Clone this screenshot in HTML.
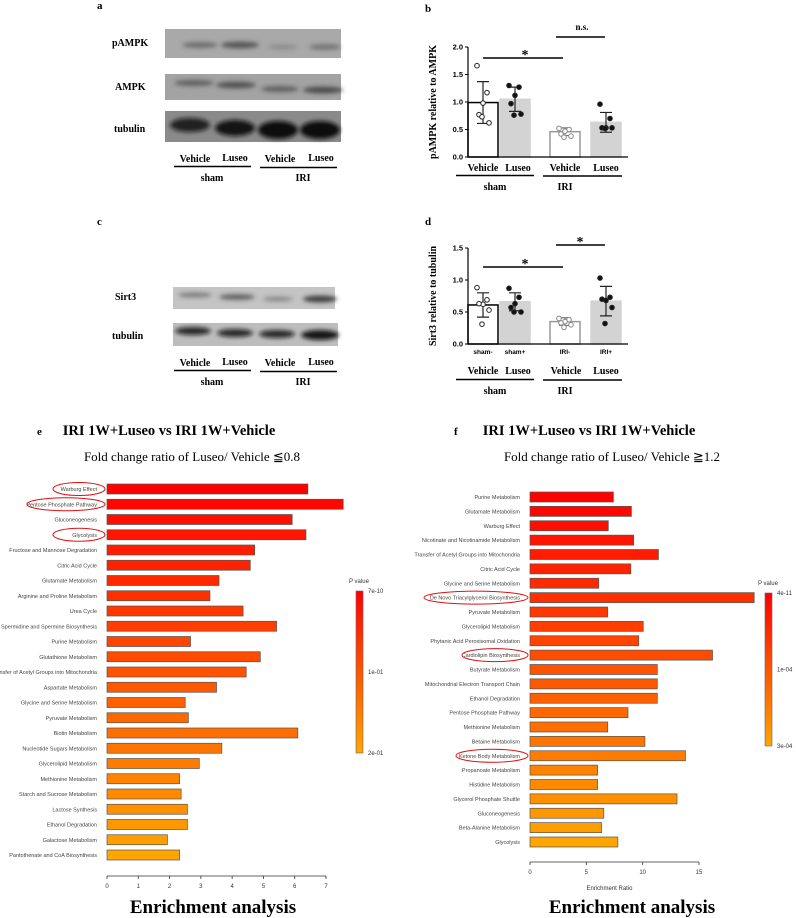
<!DOCTYPE html>
<html><head><meta charset="utf-8">
<style>
html,body{margin:0;padding:0;background:#fff;}
svg{display:block;font-family:"Liberation Serif",serif;}
.lbl{font-family:"Liberation Sans",sans-serif;font-size:5.5px;fill:#444;}
.tk{font-family:"Liberation Sans",sans-serif;font-size:6px;fill:#333;}
.b{font-weight:bold;}
</style></head>
<body>
<svg id="fig" width="796" height="918" viewBox="0 0 796 918" xmlns="http://www.w3.org/2000/svg">
<defs>
<filter id="blur" x="-20%" y="-50%" width="140%" height="200%"><feGaussianBlur stdDeviation="2.2"/></filter>
<linearGradient id="cb" x1="0" y1="0" x2="0" y2="1"><stop offset="0" stop-color="#ff0000"/><stop offset="0.5" stop-color="#ff5500"/><stop offset="1" stop-color="#ffa500"/></linearGradient>
</defs>

<!-- Panel a -->
<g>
<text x="97" y="9" font-size="11" class="b">a</text>
<text x="112" y="46" font-size="10" class="b">pAMPK</text>
<text x="115" y="90" font-size="10" class="b">AMPK</text>
<text x="114" y="132" font-size="10" class="b">tubulin</text>
<rect x="165" y="29" width="176" height="29" fill="#a9a9a9"/>
<g filter="url(#blur)" fill="#444">
<ellipse cx="200" cy="45" rx="18" ry="3" opacity="0.6"/><ellipse cx="240" cy="45" rx="19" ry="3.5" opacity="0.8"/>
<ellipse cx="283" cy="47" rx="15" ry="2.5" opacity="0.3"/><ellipse cx="325" cy="47" rx="16" ry="3" opacity="0.5"/></g>
<rect x="165" y="74" width="176" height="26" fill="#a3a3a3"/>
<g filter="url(#blur)" fill="#333">
<ellipse cx="194" cy="83" rx="20" ry="3" opacity="0.6"/><ellipse cx="236" cy="85" rx="20" ry="3.5" opacity="0.7"/>
<ellipse cx="280" cy="89" rx="19" ry="3" opacity="0.6"/><ellipse cx="323" cy="90" rx="20" ry="3.5" opacity="0.75"/></g>
<rect x="165" y="111" width="176" height="31" fill="#8a8a8a"/>
<g filter="url(#blur)" fill="#111">
<ellipse cx="190" cy="125" rx="20" ry="7" opacity="0.85"/><ellipse cx="235" cy="128" rx="20" ry="8" opacity="0.95"/>
<ellipse cx="278" cy="130" rx="20" ry="9"/><ellipse cx="320" cy="130" rx="20" ry="9"/></g>
<g font-size="10" class="b">
<text x="195" y="162" text-anchor="middle">Vehicle</text><text x="235" y="161" text-anchor="middle">Luseo</text>
<text x="280" y="162" text-anchor="middle">Vehicle</text><text x="321" y="161" text-anchor="middle">Luseo</text>
<text x="212" y="181" text-anchor="middle">sham</text><text x="303" y="181" text-anchor="middle">IRI</text></g>
<line x1="174" y1="166.5" x2="251" y2="166.5" stroke="#000" stroke-width="1.5"/>
<line x1="260" y1="167.5" x2="337" y2="167.5" stroke="#000" stroke-width="1.5"/>
</g>

<!-- Panel c -->
<g>
<text x="97" y="225" font-size="11" class="b">c</text>
<text x="115" y="300" font-size="10" class="b">Sirt3</text>
<text x="112" y="339" font-size="10" class="b">tubulin</text>
<rect x="173" y="287" width="162" height="22" fill="#c4c4c4"/>
<g filter="url(#blur)" fill="#333">
<ellipse cx="195" cy="295" rx="17" ry="2.5" opacity="0.5"/><ellipse cx="237" cy="297" rx="18" ry="3" opacity="0.65"/>
<ellipse cx="278" cy="299" rx="15" ry="2.5" opacity="0.4"/><ellipse cx="320" cy="299" rx="17" ry="3.5" opacity="0.9"/></g>
<rect x="173" y="323" width="165" height="23" fill="#bdbdbd"/>
<g filter="url(#blur)" fill="#111">
<ellipse cx="193" cy="331" rx="18" ry="4" opacity="0.85"/><ellipse cx="235" cy="333" rx="18" ry="4" opacity="0.85"/>
<ellipse cx="277" cy="334" rx="18" ry="4" opacity="0.85"/><ellipse cx="320" cy="335" rx="19" ry="5" opacity="0.95"/></g>
<g font-size="10" class="b">
<text x="195" y="366" text-anchor="middle">Vehicle</text><text x="235" y="365" text-anchor="middle">Luseo</text>
<text x="280" y="366" text-anchor="middle">Vehicle</text><text x="321" y="365" text-anchor="middle">Luseo</text>
<text x="212" y="385" text-anchor="middle">sham</text><text x="303" y="385" text-anchor="middle">IRI</text></g>
<line x1="174" y1="370.5" x2="251" y2="370.5" stroke="#000" stroke-width="1.5"/>
<line x1="260" y1="371.5" x2="337" y2="371.5" stroke="#000" stroke-width="1.5"/>
</g>

<g id="pb"></g>
<g id="pd"></g>
<g id="pe"></g>
<g id="pf"></g>
</svg>

<script>
// ---- Data: panel b ----
const bCategories = ["Vehicle","Luseo","Vehicle","Luseo"];
const bMeans = [0.99, 1.05, 0.46, 0.63];
const bSD = [0.38, 0.22, 0.07, 0.18];
const bPoints = [[1.66,1.17,0.98,0.77,0.62,0.73],[1.30,1.27,1.12,0.97,0.78,0.76],[0.52,0.50,0.47,0.42,0.38,0.36],[0.96,0.70,0.53,0.53,0.53,0.52]];
const bTicks = [0.0,0.5,1.0,1.5,2.0];
// ---- Data: panel d ----
const dCategories = ["sham-","sham+","IRI-","IRI+"];
const dMeans = [0.61, 0.66, 0.35, 0.67];
const dSD = [0.19, 0.14, 0.06, 0.23];
const dPoints = [[0.88,0.69,0.62,0.63,0.53,0.31],[0.87,0.73,0.63,0.57,0.50,0.50],[0.40,0.38,0.35,0.33,0.30,0.26],[1.03,0.73,0.68,0.70,0.57,0.32]];
const dTicks = [0.0,0.5,1.0,1.5];
// ---- Data: panel e ----
const eCategories = ["Warburg Effect","Pentose Phosphate Pathway","Gluconeogenesis","Glycolysis","Fructose and Mannose Degradation","Citric Acid Cycle","Glutamate Metabolism","Arginine and Proline Metabolism","Urea Cycle","Spermidine and Spermine Biosynthesis","Purine Metabolism","Glutathione Metabolism","Transfer of Acetyl Groups into Mitochondria","Aspartate Metabolism","Glycine and Serine Metabolism","Pyruvate Metabolism","Biotin Metabolism","Nucleotide Sugars Metabolism","Glycerolipid Metabolism","Methionine Metabolism","Starch and Sucrose Metabolism","Lactose Synthesis","Ethanol Degradation","Galactose Metabolism","Pantothenate and CoA Biosynthesis"];
const eValues = [6.42,7.55,5.92,6.36,4.72,4.58,3.58,3.29,4.35,5.42,2.67,4.9,4.45,3.5,2.5,2.6,6.1,3.67,2.95,2.32,2.37,2.57,2.57,1.93,2.32];
const eTicks = [0,1,2,3,4,5,6,7];
const eHighlight = [0,1,3];
const eColorLabels = ["7e-10","1e-01","2e-01"];
// ---- Data: panel f ----
const fCategories = ["Purine Metabolism","Glutamate Metabolism","Warburg Effect","Nicotinate and Nicotinamide Metabolism","Transfer of Acetyl Groups into Mitochondria","Citric Acid Cycle","Glycine and Serine Metabolism","De Novo Triacylglycerol Biosynthesis","Pyruvate Metabolism","Glycerolipid Metabolism","Phytanic Acid Peroxisomal Oxidation","Cardiolipin Biosynthesis","Butyrate Metabolism","Mitochondrial Electron Transport Chain","Ethanol Degradation","Pentose Phosphate Pathway","Methionine Metabolism","Betaine Metabolism","Ketone Body Metabolism","Propanoate Metabolism","Histidine Metabolism","Glycerol Phosphate Shuttle","Gluconeogenesis","Beta-Alanine Metabolism","Glycolysis"];
const fValues = [7.4,9.0,6.95,9.2,11.4,8.95,6.1,19.9,6.9,10.05,9.65,16.2,11.3,11.3,11.3,8.7,6.9,10.2,13.8,6.0,6.0,13.05,6.55,6.35,7.8];
const fTicks = [0,5,10,15];
const fHighlight = [7,11,18];
const fColorLabels = ["4e-11","1e-04","3e-04"];

const NS="http://www.w3.org/2000/svg";
function mk(parent, tag, attrs, text){
  const e=document.createElementNS(NS,tag);
  for(const k in attrs) e.setAttribute(k, attrs[k]);
  if(text!==undefined) e.textContent=text;
  parent.appendChild(e); return e;
}

function dotPlot(gid, cats, means, sd, pts, ticks, ymax, y0, y1, label, letter, letterY){
  const g=document.getElementById(gid);
  const x0=468;
  const ys=v=>y0-(v/ymax)*(y0-y1);
  const centers=[483,515,565,606];
  const hw=15;
  const fills=["#fff","#d3d3d3","#fff","#d3d3d3"];
  const strokes=["#000","#d3d3d3","#999","#d3d3d3"];
  mk(g,"text",{x:425,y:letterY,"font-size":11,"font-weight":"bold"},letter);
  for(let i=0;i<cats.length;i++){
    const bar=mk(g,"rect",{x:centers[i]-hw,y:ys(means[i]),width:hw*2,height:y0-ys(means[i]),fill:fills[i],stroke:strokes[i],"stroke-width":1.5});
    
    
    const eb=mk(g,"path",{d:`M${centers[i]} ${ys(means[i]+sd[i])}V${ys(means[i]-sd[i])}M${centers[i]-6} ${ys(means[i]+sd[i])}h12M${centers[i]-6} ${ys(means[i]-sd[i])}h12`,stroke:i==2?"#777":"#222","stroke-width":1.2,fill:"none"});
    
    
    pts[i].forEach((v,j)=>{
      const dx=[-6,4,0,-4,6,-1][j];
      const p=mk(g,"circle",{cx:centers[i]+dx,cy:ys(v),r:2.3,fill:(i%2==1)?"#111":"#fff",stroke:i==2?"#888":"#222","stroke-width":1});
      
      
    });
  }
  mk(g,"line",{x1:x0,y1:y0,x2:x0,y2:y1,stroke:"#000","stroke-width":1.2});
  mk(g,"line",{x1:x0,y1:y0,x2:628,y2:y0,stroke:"#000","stroke-width":1.2});
  ticks.forEach(t=>{
    mk(g,"line",{x1:x0-3,y1:ys(t),x2:x0,y2:ys(t),stroke:"#000"});
    const tl=mk(g,"text",{x:x0-5,y:ys(t)+2.5,"font-size":7.5,"font-weight":"bold","text-anchor":"end","font-family":"Liberation Sans,sans-serif"},t.toFixed(1));
    
    
  });
  const yl=mk(g,"text",{x:0,y:0,"font-size":10,"font-weight":"bold","text-anchor":"middle",transform:`translate(436 ${(y0+y1)/2}) rotate(-90)`},label);
  
  
  return {g,ys,centers};
}

// Panel b
(function(){
  const r=dotPlot("pb",bCategories,bMeans,bSD,bPoints,bTicks,2.0,157,47,"pAMPK relative to AMPK","b",12);
  const g=r.g;
  bCategories.forEach((c,i)=>{
    const t=mk(g,"text",{x:r.centers[i]+(i==1?3:0),y:171,"font-size":10,"font-weight":"bold","text-anchor":"middle"},c);
    
    
  });
  mk(g,"line",{x1:456,y1:175.5,x2:534,y2:175.5,stroke:"#000","stroke-width":1.5});
  mk(g,"line",{x1:543,y1:176,x2:622,y2:176,stroke:"#000","stroke-width":1.5});
  mk(g,"text",{x:495,y:190,"font-size":10,"font-weight":"bold","text-anchor":"middle"},"sham");
  mk(g,"text",{x:565,y:190,"font-size":10,"font-weight":"bold","text-anchor":"middle"},"IRI");
  mk(g,"line",{x1:483,y1:58,x2:563,y2:58,stroke:"#000","stroke-width":1.5});
  mk(g,"text",{x:525,y:59,"font-size":14,"font-weight":"bold","text-anchor":"middle"},"*");
  mk(g,"line",{x1:556,y1:37,x2:605,y2:37,stroke:"#000","stroke-width":1.5});
  mk(g,"text",{x:582,y:30,"font-size":9,"font-weight":"bold","text-anchor":"middle"},"n.s.");
})();

// Panel d
(function(){
  const r=dotPlot("pd",dCategories,dMeans,dSD,dPoints,dTicks,1.5,344,248,"Sirt3 relative to tubulin","d",225);
  const g=r.g;
  dCategories.forEach((c,i)=>{
    const t=mk(g,"text",{x:r.centers[i],y:354,"font-size":6.5,"font-weight":"bold","text-anchor":"middle","font-family":"Liberation Sans,sans-serif"},c);
    
    
  });
  ["Vehicle","Luseo","Vehicle","Luseo"].forEach((c,i)=>{
    mk(g,"text",{x:[483,518,566,606][i],y:374,"font-size":10,"font-weight":"bold","text-anchor":"middle"},c);
  });
  mk(g,"line",{x1:456,y1:379.5,x2:534,y2:379.5,stroke:"#000","stroke-width":1.5});
  mk(g,"line",{x1:543,y1:380,x2:622,y2:380,stroke:"#000","stroke-width":1.5});
  mk(g,"text",{x:495,y:394,"font-size":10,"font-weight":"bold","text-anchor":"middle"},"sham");
  mk(g,"text",{x:565,y:394,"font-size":10,"font-weight":"bold","text-anchor":"middle"},"IRI");
  mk(g,"line",{x1:483,y1:267,x2:563,y2:267,stroke:"#000","stroke-width":1.5});
  mk(g,"text",{x:525,y:268,"font-size":14,"font-weight":"bold","text-anchor":"middle"},"*");
  mk(g,"line",{x1:556,y1:245,x2:605,y2:245,stroke:"#000","stroke-width":1.5});
  mk(g,"text",{x:580,y:246,"font-size":14,"font-weight":"bold","text-anchor":"middle"},"*");
})();

function lerpColor(t){
  const gg=Math.round(165*t);
  return `rgb(255,${gg},0)`;
}

function barChart(gid, letter, cats, vals, ticks, xmax, x0, x1, yFirst, yLast, axisY, hl, cbX, cbY0, cbY1, cbLabels, titleCx, subCx, letterX, subtitle, showXTitle, captionCx, ellipseRx){
  const g=document.getElementById(gid);
  const xs=v=>x0+(v/xmax)*(x1-x0);
  const step=(yLast-yFirst)/(cats.length-1);
  const bh=10;
  mk(g,"text",{x:letterX,y:435,"font-size":11,"font-weight":"bold"},letter);
  const tt=mk(g,"text",{x:titleCx,y:435,"font-size":14.5,"font-weight":"bold","text-anchor":"middle"},"IRI 1W+Luseo vs IRI 1W+Vehicle");
  
  
  const st=mk(g,"text",{x:subCx,y:461,"font-size":13,"text-anchor":"middle"},subtitle);
  
  
  cats.forEach((c,i)=>{
    const y=yFirst+i*step;
    const bar=mk(g,"rect",{x:x0,y:y-bh/2,width:xs(vals[i])-x0,height:bh,fill:lerpColor(i/(cats.length-1)),stroke:"#555","stroke-width":0.7});
    
    
    const l=mk(g,"text",{x:x0-10,y:y+2,class:"lbl","text-anchor":"end"},c);
    
    
  });
  hl.forEach(i=>{
    const y=yFirst+i*step;
    const rx=ellipseRx[i];
    const el=mk(g,"ellipse",{cx:x0-2-rx,cy:y,rx:rx,ry:6.5,fill:"none",stroke:"#e01010","stroke-width":1});
    
    
  });
  mk(g,"line",{x1:x0,y1:axisY,x2:x1,y2:axisY,stroke:"#333","stroke-width":0.8});
  ticks.forEach(t=>{
    mk(g,"line",{x1:xs(t),y1:axisY,x2:xs(t),y2:axisY+3,stroke:"#333","stroke-width":0.8});
    const tl=mk(g,"text",{x:xs(t),y:axisY+12,class:"tk","text-anchor":"middle"},String(t));
    
    
  });
  if(showXTitle){
    const xt=mk(g,"text",{x:(x0+x1)/2-5,y:axisY+28,class:"tk","text-anchor":"middle","font-size":6.5},"Enrichment Ratio");
    
    
  }
  const ea=mk(g,"text",{x:captionCx,y:913,"font-size":19,"font-weight":"bold","text-anchor":"middle"},"Enrichment analysis");
  
  
  const cb=mk(g,"rect",{x:cbX,y:cbY0,width:7,height:cbY1-cbY0,fill:"url(#cb)",stroke:"#666","stroke-width":0.6});
  
  
  mk(g,"text",{x:cbX-7,y:cbY0-8,class:"tk"},"P value");
  cbLabels.forEach((l,i)=>{
    mk(g,"text",{x:cbX+12,y:cbY0+i*(cbY1-cbY0)/2+2,class:"tk"},l);
  });
}

barChart("pe","e",eCategories,eValues,eTicks,7,107,326,489,855,876,eHighlight,356,591,753,eColorLabels,169,192,37,"Fold change ratio of Luseo/ Vehicle \u22660.8",false,213,{0:26,1:39,3:26});
barChart("pf","f",fCategories,fValues,fTicks,15,530,699,497,842,862,fHighlight,765,593,746,fColorLabels,589,612,454,"Fold change ratio of Luseo/ Vehicle \u22671.2",true,632,{7:52,11:33,18:36});
</script>
</body></html>
